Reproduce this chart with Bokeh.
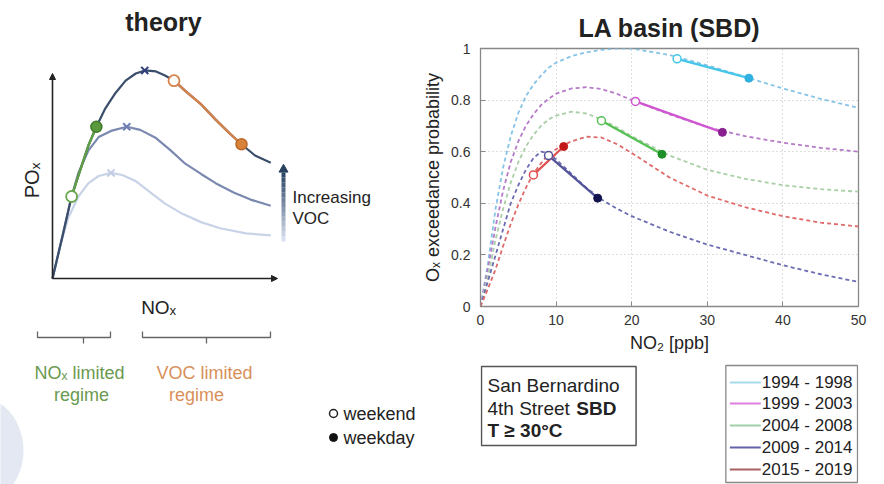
import math
from bokeh.plotting import figure
from bokeh.layouts import row, column
from bokeh.models import Range1d, FixedTicker, CustomJSTickFormatter, Arrow, NormalHead
from bokeh.core.properties import value
from bokeh.embed import file_html
from bokeh.resources import INLINE

FONT = "Liberation Sans"

# ---------------- right chart data (LA basin, SBD) ----------------
no2 = [0, 1, 2, 3, 4, 5, 6, 7, 8, 9, 10, 12, 14, 16, 18, 20, 25, 30, 35, 40, 45, 50]
p_1994_1998 = [0, 0.17, 0.38, 0.54, 0.66, 0.75, 0.815, 0.86, 0.895, 0.925, 0.945, 0.97, 0.985, 0.995, 1.0, 1.0, 0.975, 0.935, 0.89, 0.845, 0.805, 0.77]
p_1999_2003 = [0, 0.15, 0.31, 0.45, 0.56, 0.64, 0.70, 0.745, 0.78, 0.805, 0.825, 0.845, 0.85, 0.843, 0.825, 0.80, 0.745, 0.695, 0.66, 0.635, 0.615, 0.60]
p_2004_2008 = [0, 0.12, 0.26, 0.38, 0.48, 0.56, 0.62, 0.665, 0.70, 0.725, 0.74, 0.755, 0.748, 0.725, 0.695, 0.66, 0.585, 0.53, 0.495, 0.47, 0.455, 0.445]
p_2009_2014 = [0, 0.10, 0.20, 0.30, 0.40, 0.47, 0.53, 0.575, 0.60, 0.595, 0.57, 0.515, 0.46, 0.415, 0.38, 0.35, 0.29, 0.24, 0.20, 0.16, 0.125, 0.095]
p_2015_2019 = [0, 0.07, 0.145, 0.235, 0.32, 0.395, 0.46, 0.515, 0.555, 0.59, 0.61, 0.64, 0.658, 0.655, 0.63, 0.595, 0.50, 0.43, 0.385, 0.35, 0.325, 0.31]

periods = ["1994 - 1998", "1999 - 2003", "2004 - 2008", "2009 - 2014", "2015 - 2019"]
series = [p_1994_1998, p_1999_2003, p_2004_2008, p_2009_2014, p_2015_2019]

weekend_no2 = [26, 20.5, 16, 9, 7]
weekend_p = [0.96, 0.795, 0.72, 0.585, 0.51]
weekday_no2 = [35.5, 32, 24, 15.5, 11]
weekday_p = [0.885, 0.675, 0.59, 0.42, 0.62]

dash_colors = ["#86c3e6", "#b67ac8", "#a9cfa6", "#6c6cb2", "#e06a6a"]
seg_colors = ["#45c6e8", "#d055d0", "#55c055", "#52529a", "#e05050"]
weekday_colors = ["#2fb0e0", "#8a1f8f", "#1f8f2a", "#12124f", "#c21818"]
legend_colors = ["#a6dbea", "#e07ee0", "#9fd0a8", "#6262a8", "#a86060"]

# ---------------- theory panel data (schematic) ----------------
top_nox = [0, 0.45, 0.85, 1.25, 1.6, 1.95, 2.35, 2.8, 3.25, 3.7, 4.1, 4.6, 5.0, 5.4, 5.9, 6.6, 7.25, 7.9, 8.4, 9.0, 9.7]
top_pox = [0, 2.1, 4.0, 5.35, 6.5, 7.4, 8.3, 9.05, 9.65, 10.0, 10.15, 10.1, 9.9, 9.65, 9.15, 8.5, 7.75, 7.05, 6.55, 6.0, 5.65]
mid_nox = [0, 0.45, 0.8, 1.15, 1.6, 2.05, 2.6, 3.3, 3.9, 4.6, 5.25, 5.9, 6.6, 7.25, 8.05, 8.8, 9.7]
mid_pox = [0, 2.1, 3.8, 5.15, 6.25, 6.9, 7.2, 7.4, 7.25, 6.85, 6.25, 5.6, 5.1, 4.65, 4.2, 3.85, 3.55]
low_nox = [0, 0.35, 0.7, 1.15, 1.6, 2.05, 2.6, 3.1, 3.7, 4.35, 5.0, 5.7, 6.6, 7.45, 8.6, 9.7]
low_pox = [0, 1.6, 2.95, 4.0, 4.65, 5.0, 5.15, 5.05, 4.75, 4.2, 3.65, 3.2, 2.75, 2.45, 2.2, 2.1]
nox_limited_idx = (2, 5)    # weekend -> weekday on the rising side
voc_limited_idx = (13, 18)  # weekend -> weekday on the falling side

# ======================= LEFT CANVAS =======================
left = figure(width=420, height=484, x_range=Range1d(0, 420), y_range=Range1d(484, 0),
              toolbar_location=None, output_backend="svg", min_border=0,
              x_axis_location=None, y_axis_location=None, outline_line_color=None)
left.xgrid.visible = False
left.ygrid.visible = False
left.extra_x_ranges = {"nox": Range1d(-52 / 22.5, (420 - 52) / 22.5)}
left.extra_y_ranges = {"pox": Range1d((278 - 484) / 20.5, 278 / 20.5)}
R = dict(x_range_name="nox", y_range_name="pox")

# decorative pale circle bottom-left
left.ellipse(x=[-25], y=[450], width=96, height=110, fill_color="#e3e8f3", line_color=None)

# theory axes
left.add_layout(Arrow(x_start=0, y_start=0, x_end=0, y_end=10, line_width=1.6, line_color="#222",
                      end=NormalHead(size=6, fill_color="#222", line_color="#222"), **R))
left.add_layout(Arrow(x_start=0, y_start=0, x_end=10, y_end=0, line_width=1.6, line_color="#222",
                      end=NormalHead(size=6, fill_color="#222", line_color="#222"), **R))

curve_cols = ["#c9d3e8", "#7b89b0", "#3a4d6a"]
x_cols = ["#c3cce4", "#6d7bb5", "#2f3f7a"]
for xs, ys, c, xc in [(low_nox, low_pox, curve_cols[0], x_cols[0]),
                      (mid_nox, mid_pox, curve_cols[1], x_cols[1]),
                      (top_nox, top_pox, curve_cols[2], x_cols[2])]:
    left.line(xs, ys, line_color=c, line_width=2.2, **R)
    k = max(range(len(ys)), key=lambda i: ys[i])
    left.scatter([xs[k]], [ys[k]], marker="x", size=10, line_width=2, line_color=xc, **R)

a, b = nox_limited_idx
left.line(top_nox[a:b + 1], top_pox[a:b + 1], line_color="#5f9e45", line_width=2.4, **R)
left.scatter([top_nox[a]], [top_pox[a]], size=11, fill_color="white", line_color="#6aa84f", line_width=1.8, **R)
left.scatter([top_nox[b]], [top_pox[b]], size=11, fill_color="#5a9a3c", line_color="#3f7a2a", line_width=1.5, **R)
a, b = voc_limited_idx
left.line(top_nox[a:b + 1], top_pox[a:b + 1], line_color="#d4814a", line_width=2.4, **R)
left.scatter([top_nox[a]], [top_pox[a]], size=11, fill_color="white", line_color="#d4814a", line_width=1.8, **R)
left.scatter([top_nox[b]], [top_pox[b]], size=11, fill_color="#d9823a", line_color="#b86a2a", line_width=1.5, **R)

# Increasing VOC gradient arrow
n = 14
y0, y1 = 241.0, 172.0
def lerp(c0, c1, t):
    return "#%02x%02x%02x" % tuple(int(round(c0[i] + (c1[i] - c0[i]) * t)) for i in range(3))
light, dark = (222, 228, 242), (40, 66, 100)
ys0 = [y0 + (y1 - y0) * i / n for i in range(n)]
ys1 = [y0 + (y1 - y0) * (i + 1) / n for i in range(n)]
cols = [lerp(light, dark, (i + 0.5) / n) for i in range(n)]
left.segment(x0=[283] * n, y0=ys0, x1=[283] * n, y1=ys1, line_color=cols, line_width=4)
left.scatter([283], [169], marker="triangle", size=9, fill_color="#28425f", line_color="#28425f")

def txt(fig, x, y, s, size, color="#222", align="left", bold=False, angle=0.0):
    fig.text(x=[x], y=[y], text=[s], text_font=value(FONT), text_font_size=size,
             text_color=color, text_align=align, text_baseline="middle",
             text_font_style="bold" if bold else "normal", angle=angle)

txt(left, 163, 21, "theory", "25px", align="center", bold=True)
txt(left, 31, 180, "POₓ", "20px", align="center", angle=math.pi / 2)
txt(left, 158, 307, "NOₓ", "19px", align="center")
txt(left, 292, 197, "Increasing", "17px")
txt(left, 292, 218, "VOC", "17px")

# regime brackets
left.multi_line(xs=[[37, 37, 110, 110], [83, 83], [142, 142, 270, 270], [206, 206]],
                ys=[[331, 337, 337, 331], [337, 343], [331, 337, 337, 331], [337, 343]],
                line_color="#666", line_width=1.3)
txt(left, 79, 372, "NOₓ limited", "18px", color="#6a9a50", align="center")
txt(left, 81, 394, "regime", "18px", color="#6a9a50", align="center")
txt(left, 204, 372, "VOC limited", "18px", color="#d8905a", align="center")
txt(left, 196, 394, "regime", "18px", color="#d8905a", align="center")

# weekend / weekday key
left.scatter([333], [413], size=8, fill_color="white", line_color="#222", line_width=1.5)
left.scatter([333], [437], size=8, fill_color="#111", line_color="#111")
txt(left, 343, 413, "weekend", "18px")
txt(left, 343, 437, "weekday", "18px")

# ======================= RIGHT CHART =======================
p = figure(width=464, height=358, x_range=Range1d(0, 50), y_range=Range1d(0, 1),
           toolbar_location=None, output_backend="svg", title="LA basin (SBD)",
           min_border_left=59, min_border_right=26, min_border_top=48, min_border_bottom=52)
p.title.align = "center"
p.title.text_font = FONT
p.title.text_font_size = "25px"
p.title.text_font_style = "bold"
p.title.text_color = "#222"
p.title.vertical_align = "top"

p.xaxis.ticker = FixedTicker(ticks=[0, 10, 20, 30, 40, 50])
p.yaxis.ticker = FixedTicker(ticks=[0, 0.2, 0.4, 0.6, 0.8, 1.0])
p.yaxis.formatter = CustomJSTickFormatter(code="return String(Math.round(tick*10)/10);")
p.xaxis.axis_label = "NO₂ [ppb]"
p.yaxis.axis_label = "Oₓ exceedance probability"
for ax in (p.xaxis, p.yaxis):
    ax.axis_label_text_font = FONT
    ax.axis_label_text_font_size = "18px"
    ax.axis_label_text_font_style = "normal"
    ax.axis_label_text_color = "#222"
    ax.axis_label_standoff = 5
    ax.major_label_text_font = FONT
    ax.major_label_text_font_size = "14px"
    ax.major_label_text_color = "#333"
    ax.major_tick_in = 5
    ax.major_tick_out = 0
    ax.minor_tick_line_color = None
    ax.axis_line_color = "#888"
    ax.major_tick_line_color = "#888"
p.xaxis.major_label_standoff = 8
p.yaxis.major_label_standoff = 10
p.outline_line_color = "#888"
p.outline_line_width = 1.3
p.grid.grid_line_color = "#bdbdbd"
p.grid.grid_line_dash = "1 3"
p.grid.grid_line_width = 1

for vals, dc in zip(series, dash_colors):
    p.line(no2, vals, line_color=dc, line_width=1.8, line_dash="4 3")
for i in range(5):
    p.line([weekend_no2[i], weekday_no2[i]], [weekend_p[i], weekday_p[i]],
           line_color=seg_colors[i], line_width=2.2)
p.scatter(weekend_no2, weekend_p, size=8, fill_color="white", line_color=seg_colors, line_width=1.5)
p.scatter(weekday_no2, weekday_p, size=8, fill_color=weekday_colors, line_color=weekday_colors)

# ======================= BOTTOM-RIGHT CANVAS =======================
# its frame is aligned with the chart frame above (page x 479..858)
bc = figure(width=464, height=126, x_range=Range1d(479, 858), y_range=Range1d(484, 358),
            toolbar_location=None, output_backend="svg",
            min_border_left=59, min_border_right=26, min_border_top=0, min_border_bottom=0,
            x_axis_location=None, y_axis_location=None, outline_line_color=None)
bc.xgrid.visible = False
bc.ygrid.visible = False

bc.quad(left=[480], right=[635], top=[366], bottom=[445], fill_color="white",
        line_color="#555", line_width=1.5)
txt(bc, 486, 385, "San Bernardino", "19px")
txt(bc, 486, 408, "4th Street", "19px")
txt(bc, 575, 408, "SBD", "19px", bold=True)
txt(bc, 486, 430, "T ≥ 30°C", "19px", bold=True)

bc.quad(left=[725], right=[857], top=[365], bottom=[482], fill_color="white",
        line_color="#888", line_width=1.3)
entry_y = [382, 403, 425, 447, 469]
bc.segment(x0=[729] * 5, y0=entry_y, x1=[760] * 5, y1=entry_y, line_color=legend_colors, line_width=2)
for yy, lab in zip(entry_y, periods):
    txt(bc, 761, yy, lab, "17px")

layout = row(left, column(p, bc))
open("out.html", "w").write(file_html(layout, INLINE))
